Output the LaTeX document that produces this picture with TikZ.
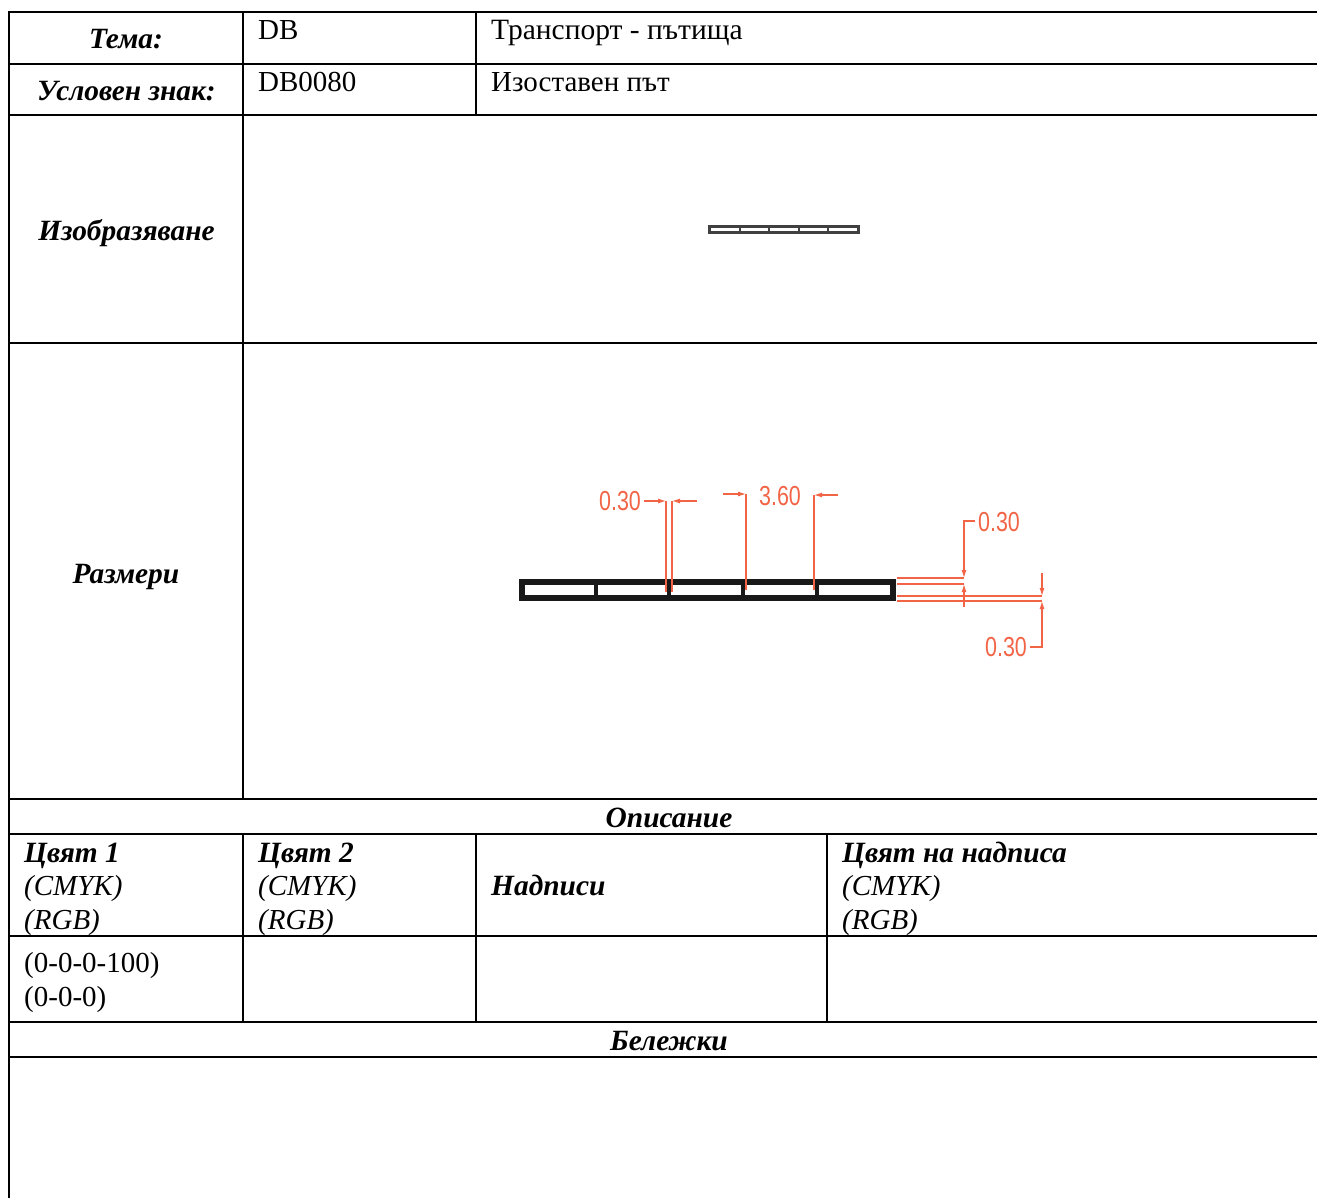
\documentclass[tikz,border=0pt]{standalone}
\usepackage{fontspec}
\setmainfont{Liberation Serif}
\newfontfamily\dimfont{Liberation Sans}
\usetikzlibrary{arrows.meta}
\definecolor{dimred}{RGB}{242,100,70}
\newcommand{\bi}[1]{{\fontsize{29.4}{33}\selectfont\textbf{\textit{#1}}}}
\tikzset{
grid/.style = {draw=black, line width=2pt},
label/.style = {anchor=base, inner sep=0pt, font=\fontsize{29}{33}\selectfont},
entry/.style = {anchor=base west, inner sep=0pt, font=\fontsize{29}{33}\selectfont},
dim/.style = {draw=dimred, line width=1.1pt},
dimtext/.style = {text=dimred, inner sep=0pt, xscale=0.78, font=\dimfont\fontsize{27.5}{27.5}\selectfont},
}
\begin{document}
\begin{tikzpicture}[x=1pt, y=-1pt, >={Latex[length=8pt,width=5pt]}]
      \useasboundingbox (0,0) rectangle (1317,1198);
      % table
      \draw [grid] (1317,12) -- (9,12) -- (9,1198);
      \foreach \y in {64,115,343,799,834,936,1022,1057}
         \draw [grid] (9,\y) -- (1317,\y);
      \draw [grid] (243,12) -- (243,799);
      \draw [grid] (476,12) -- (476,115);
      \foreach \x in {243,476,827}
         \draw [grid] (\x,834) -- (\x,1022);
      % left column
      \node [label] (tema) at (126,49) {\bi{Тема:}};
      \node [label] (znak) at (126.5,101) {\bi{Условен знак:}};
      \node [label] (izobr) at (126.5,241) {\bi{Изобразяване}};
      \node [label] (razmeri) at (126,583) {\bi{Размери}};
      % top rows
      \node [entry] (db) at (258,40) {DB};
      \node [entry] (dbcode) at (258,92) {DB0080};
      \node [entry] (transport) at (491,40) {\fontsize{29.5}{33}\selectfont Транспорт - пътища};
      \node [entry] (pat) at (491,92) {Изоставен път};
      % small sign
      \draw [draw=black!75, line width=3pt] (709.5,227) rectangle (858.5,233);
      \foreach \x in {740,769,799,828}
         \draw [draw=black!75, line width=2pt] (\x,227) -- (\x,233);
      % big sign
      \draw [draw=black!90, line width=6pt] (522,582) rectangle (892.5,597.5);
      \foreach \x in {596,669,743,817}
         \draw [draw=black!90, line width=4pt] (\x,582) -- (\x,597.5);
      % dimensions
      \node [dimtext] (dima) at (620,501) {0.30};
      \node [dimtext] (dimb) at (780,496) {3.60};
      \node [dimtext] (dimc) at (999,522) {0.30};
      \node [dimtext] (dimd) at (1006,647) {0.30};
      \draw [dim,->] (644,501) -- (666,501);
      \draw [dim] (666,501) -- (666,592);
      \draw [dim,->] (697,501) -- (672,501);
      \draw [dim] (672,501) -- (672,592);
      \draw [dim,->] (723,494) -- (746,494);
      \draw [dim] (746,494) -- (746,590);
      \draw [dim,->] (838,495) -- (814,495);
      \draw [dim] (814,495) -- (814,590);
      \draw [dim,->] (975,521) -- (964,521) -- (964,578);
      \draw [dim,->] (964,607) -- (964,584);
      \draw [dim] (897,578) -- (964,578);
      \draw [dim] (897,584) -- (964,584);
      \draw [dim] (897,596) -- (1042,596);
      \draw [dim] (897,601) -- (1042,601);
      \draw [dim,->] (1042,573) -- (1042,596);
      \draw [dim,->] (1030,647) -- (1042,647) -- (1042,601);
      % description
      \node [label] (opisanie) at (669,827) {\bi{Описание}};
      \node [entry] (color) at (24,862) {\bi{Цвят 1}};
      \node [entry] (colcmyk) at (24,895) {\textit{(CMYK)}};
      \node [entry] (colrgb) at (24,929) {\textit{(RGB)}};
      \node [entry] (colorb) at (258,862) {\bi{Цвят 2}};
      \node [entry] (colbcmyk) at (258,895) {\textit{(CMYK)}};
      \node [entry] (colbrgb) at (258,929) {\textit{(RGB)}};
      \node [entry] (nadpisi) at (491,895) {\bi{Надписи}};
      \node [entry] (colort) at (842,862) {\bi{Цвят на надписа}};
      \node [entry] (coltcmyk) at (842,895) {\textit{(CMYK)}};
      \node [entry] (coltrgb) at (842,929) {\textit{(RGB)}};
      \node [entry] (cmykval) at (24,972) {(0-0-0-100)};
      \node [entry] (rgbval) at (24,1006) {(0-0-0)};
      \node [label] (belezhki) at (669,1050) {\bi{Бележки}};
\end{tikzpicture}
\end{document}
